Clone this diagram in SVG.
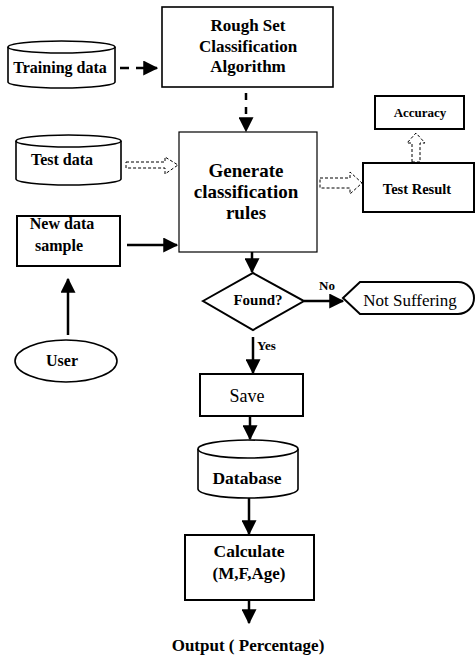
<svg xmlns="http://www.w3.org/2000/svg" width="475" height="658" viewBox="0 0 475 658" font-family="'Liberation Serif', 'Times New Roman', serif">
<style>
text{font-family:'Liberation Serif','Times New Roman',serif}
.b{font-weight:bold;fill:#000;text-anchor:middle}
.r{fill:#000;text-anchor:middle}
.sh{fill:#fff;stroke:#000;stroke-width:1.6}
.ln{stroke:#000;stroke-width:2.5;fill:none}
.dl{stroke:#000;stroke-width:2.5;fill:none;stroke-dasharray:9,7}
.ha{fill:#fff;stroke:#000;stroke-width:1;stroke-dasharray:3,2}
</style>
<defs>
<marker id="ah" markerWidth="6" markerHeight="6" refX="5.5" refY="3" orient="auto" markerUnits="strokeWidth">
<path d="M0,0 L6,3 L0,6 Z" fill="#000"/>
</marker>
</defs>
<rect width="475" height="658" fill="#fff"/>

<g id="connectors">
<line class="dl" x1="120" y1="68" x2="157" y2="68" marker-end="url(#ah)"/>
<line class="dl" x1="246" y1="93" x2="246" y2="131" marker-end="url(#ah)" style="stroke-dasharray:7,7"/>
<polygon class="ha" points="126,162 165,162 165,157 178,165 165,174 165,168 126,168"/>
<polygon class="ha" points="320,178 350,178 350,172 362,183 350,194 350,188 320,188"/>
<polygon class="ha" points="412,162 412,143 407,143 416,133 425,143 420,143 420,162"/>
<line class="ln" x1="127" y1="245" x2="177" y2="245" marker-end="url(#ah)"/>
<line class="ln" x1="68" y1="335" x2="68" y2="279" marker-end="url(#ah)"/>
<line class="ln" x1="252" y1="252" x2="252" y2="272" marker-end="url(#ah)"/>
<line class="ln" x1="304" y1="301" x2="343" y2="301" marker-end="url(#ah)"/>
<line class="ln" x1="253" y1="337" x2="253" y2="373" marker-end="url(#ah)"/>
<line class="ln" x1="250" y1="416" x2="250" y2="439" marker-end="url(#ah)"/>
<line class="ln" x1="249" y1="498" x2="249" y2="534" marker-end="url(#ah)"/>
<line class="ln" x1="249" y1="600" x2="249" y2="623" marker-end="url(#ah)"/>
<text class="b" x="327" y="290" font-size="13">No</text>
<text class="b" x="257" y="350" font-size="13" style="text-anchor:start">Yes</text>
</g>

<g id="training-data">
<path class="sh" d="M8,47 A53.5,6 0 0 1 115,47 L115,82 A53.5,6 0 0 1 8,82 Z"/>
<path class="sh" d="M8,47 A53.5,6 0 0 0 115,47" fill="none"/>
<text class="b" x="60" y="73" font-size="16">Training data</text>
</g>

<g id="rough-set">
<rect class="sh" x="162" y="7" width="171" height="80"/>
<text class="b" x="248" y="31" font-size="17">Rough Set</text>
<text class="b" x="248" y="52" font-size="17">Classification</text>
<text class="b" x="248" y="72" font-size="17">Algorithm</text>
</g>

<g id="accuracy">
<rect class="sh" x="375" y="96" width="89" height="33" style="stroke-width:2"/>
<text class="b" x="420" y="117" font-size="13">Accuracy</text>
</g>

<g id="test-data">
<path class="sh" d="M16,141 A52.5,6 0 0 1 121,141 L121,179 A52.5,6 0 0 1 16,179 Z"/>
<path class="sh" d="M16,141 A52.5,6 0 0 0 121,141" fill="none"/>
<text class="b" x="62" y="165" font-size="16">Test data</text>
</g>

<g id="generate">
<rect class="sh" x="179" y="132" width="138" height="120" style="stroke-width:1.2"/>
<text class="b" x="246" y="177" font-size="19">Generate</text>
<text class="b" x="246" y="198" font-size="19">classification</text>
<text class="b" x="246" y="219" font-size="19">rules</text>
</g>

<g id="test-result">
<rect class="sh" x="363" y="163" width="111" height="49" style="stroke-width:2"/>
<text class="b" x="417" y="194" font-size="14.5">Test Result</text>
</g>

<g id="new-data-sample">
<rect class="sh" x="17" y="216" width="103" height="50" style="stroke-width:2"/>
<text class="b" x="62" y="229" font-size="16">New data</text>
<text class="b" x="59" y="251" font-size="16">sample</text>
</g>

<g id="user">
<ellipse class="sh" cx="66" cy="361" rx="51" ry="21"/>
<text class="b" x="62" y="366" font-size="16">User</text>
</g>

<g id="found">
<polygon class="sh" points="203,301 253,273 304,301 253,330" style="stroke-width:2"/>
<text class="b" x="258" y="305" font-size="15">Found?</text>
</g>

<g id="not-suffering">
<path class="sh" d="M343,298 L360,282 L458,282 A16,16 0 0 1 458,314 L360,314 Z" style="stroke-width:2"/>
<text class="r" x="410" y="306" font-size="17">Not Suffering</text>
</g>

<g id="save">
<rect class="sh" x="200" y="374" width="103" height="42" style="stroke-width:2"/>
<text class="r" x="247" y="402" font-size="18">Save</text>
</g>

<g id="database">
<path class="sh" d="M198,449 A50,9 0 0 1 298,449 L298,489 A50,9 0 0 1 198,489 Z"/>
<path class="sh" d="M198,449 A50,9 0 0 0 298,449" fill="none"/>
<text class="b" x="247" y="484" font-size="17.5">Database</text>
</g>

<g id="calculate">
<rect class="sh" x="185" y="535" width="129" height="65" style="stroke-width:2"/>
<text class="b" x="249" y="557" font-size="17.5">Calculate</text>
<text class="b" x="249" y="579" font-size="17">(M,F,Age)</text>
</g>

<g id="output">
<text class="b" x="248" y="651" font-size="17">Output ( Percentage)</text>
</g>
</svg>
